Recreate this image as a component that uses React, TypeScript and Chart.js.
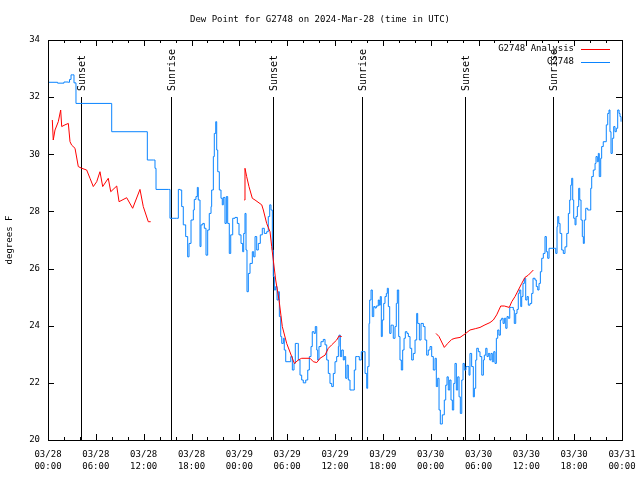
import React, { useEffect, useRef } from "react";
import { Chart, registerables } from "chart.js";

Chart.register(...registerables);

const TITLE = "Dew Point for G2748 on 2024-Mar-28 (time in UTC)";
const Y_LABEL = "degrees F";
const SERIES_ANALYSIS = "G2748 Analysis";
const SERIES_OBS = "G2748";

const tickDates = ["03/28", "03/28", "03/28", "03/28", "03/29", "03/29", "03/29", "03/29", "03/30", "03/30", "03/30", "03/30", "03/31"];
const tickTimes = ["00:00", "06:00", "12:00", "18:00", "00:00", "06:00", "12:00", "18:00", "00:00", "06:00", "12:00", "18:00", "00:00"];

const sunEventTime = [4.17, 15.45, 28.22, 39.42, 52.28, 63.38];
const sunEventName = ["Sunset", "Sunrise", "Sunset", "Sunrise", "Sunset", "Sunrise"];

// hours since 03/28 00:00 UTC
const obsTime = [
  0, 1.2, 2.0, 2.55, 2.7, 2.89, 3.1, 3.26, 3.51, 7.78, 7.99, 12.29, 12.46, 13.21, 13.42, 13.55, 15.09, 15.3, 16.14,
  16.35, 16.56, 16.77, 16.97, 17.27, 17.52, 17.69, 17.94, 18.23, 18.35, 18.56, 18.73, 18.85, 19.07, 19.19, 19.41, 19.61, 19.82,
  20.03, 20.23, 20.45, 20.53, 20.74, 20.86, 21.04, 21.16, 21.29, 21.49, 21.7, 21.86, 21.99, 22.2, 22.37, 22.54, 22.74, 22.92,
  23.17, 23.46, 23.75, 23.96, 24.21, 24.42, 24.55, 24.71, 24.84, 24.96, 25.13, 25.34, 25.63, 25.8, 25.97, 26.18, 26.38, 26.63,
  26.88, 27.13, 27.43, 27.63, 27.81, 27.97, 28.14, 28.26, 28.39, 28.56, 28.73, 28.89, 29.02, 29.19, 29.32, 29.52, 29.64, 29.82,
  30.23, 30.45, 30.65, 30.86, 31.02, 31.27, 31.4, 31.61, 31.82, 32.02, 32.33, 32.58, 32.78, 32.99, 33.15, 33.37, 33.53, 33.71,
  33.83, 33.99, 34.24, 34.53, 34.75, 34.96, 35.16, 35.37, 35.59, 35.79, 36.0, 36.21, 36.42, 36.5, 36.67, 36.84, 37.04, 37.17,
  37.34, 37.51, 37.67, 37.88, 38.22, 38.42, 38.6, 38.85, 39.05, 39.3, 39.55, 39.77, 39.98, 40.1, 40.27, 40.35, 40.52, 40.68,
  40.86, 41.02, 41.18, 41.43, 41.56, 41.68, 41.81, 41.93, 42.11, 42.27, 42.44, 42.56, 42.69, 42.86, 43.03, 43.19, 43.31, 43.53,
  43.69, 43.82, 43.99, 44.15, 44.32, 44.49, 44.66, 44.82, 45.03, 45.2, 45.41, 45.62, 45.82, 46.04, 46.25, 46.37, 46.58, 46.79,
  47.08, 47.29, 47.5, 47.7, 47.92, 48.13, 48.33, 48.55, 48.71, 48.88, 49.05, 49.21, 49.46, 49.71, 49.89, 50.05, 50.21, 50.39,
  50.55, 50.72, 50.89, 51.05, 51.22, 51.39, 51.56, 51.72, 51.9, 52.06, 52.22, 52.43, 52.65, 52.81, 52.93, 53.14, 53.35, 53.48,
  53.65, 53.78, 53.98, 54.19, 54.41, 54.61, 54.73, 54.91, 55.07, 55.23, 55.41, 55.57, 55.73, 55.91, 56.07, 56.24, 56.41, 56.57,
  56.74, 56.91, 57.08, 57.24, 57.42, 57.58, 57.74, 57.92, 58.17, 58.37, 58.49, 58.67, 58.83, 58.99, 59.12, 59.3, 59.42, 59.58,
  59.75, 59.92, 60.09, 60.25, 60.46, 60.67, 60.84, 61.09, 61.25, 61.43, 61.59, 61.76, 61.93, 62.13, 62.34, 62.51, 62.68, 62.85,
  63.51, 63.69, 63.85, 63.94, 64.07, 64.23, 64.44, 64.64, 64.85, 65.07, 65.27, 65.44, 65.57, 65.69, 65.82, 65.94, 66.11, 66.23,
  66.4, 66.57, 66.7, 66.86, 67.02, 67.15, 67.27, 67.45, 67.7, 67.95, 68.08, 68.2, 68.4, 68.62, 68.74, 68.9, 69.03, 69.15, 69.33,
  69.45, 69.65, 69.87, 70.03, 70.21, 70.37, 70.49, 70.62, 70.78, 70.96, 71.12, 71.29, 71.46, 71.63, 71.75, 71.88,
];
const obsDew = [
  32.52, 32.49, 32.53, 32.52, 32.62, 32.78, 32.78, 32.5, 31.78, 31.78, 30.79, 30.79, 29.8, 29.8, 29.51, 28.77, 28.77, 27.76, 27.76,
  28.77, 28.75, 28.17, 27.53, 27.12, 26.41, 26.88, 27.7, 28.05, 28.42, 28.52, 28.84, 28.4, 26.77, 27.53, 27.58, 27.41, 26.47,
  27.35, 27.93, 28.17, 28.75, 29.92, 30.73, 31.14, 30.15, 29.39, 28.75, 28.46, 28.23, 28.49, 27.58, 28.52, 27.58, 26.53, 27.18,
  27.76, 27.79, 27.58, 27.18, 26.88, 26.59, 27.23, 27.93, 26.65, 25.19, 25.83, 26.18, 26.59, 26.41, 27.12, 26.65, 26.88, 27.18,
  27.41, 27.23, 27.29, 27.82, 28.23, 28.05, 26.65, 25.72, 25.25, 25.37, 24.9, 25.19, 24.32, 23.62, 23.38, 23.56, 23.15, 22.74,
  22.74, 22.92, 22.45, 22.68, 23.38, 23.38, 22.8, 22.27, 22.1, 22.0, 22.1, 22.45, 22.92, 23.27, 23.79, 23.73, 23.97, 23.15,
  22.8, 23.27, 23.44, 23.52, 23.33, 22.8, 22.33, 21.98, 21.87, 22.33, 22.74, 22.92, 23.27, 23.67, 22.92, 23.15, 22.8, 22.92,
  22.16, 22.62, 22.1, 21.75, 21.75, 22.45, 22.92, 22.92, 22.8, 23.09, 23.09, 22.33, 21.81, 22.57, 24.08, 24.9, 25.25, 24.32,
  24.67, 24.62, 24.69, 24.9, 24.72, 25.02, 23.62, 24.2, 24.78, 25.02, 25.13, 25.31, 24.67, 23.73, 24.02, 24.02, 23.56, 23.97,
  24.78, 25.25, 23.62, 22.8, 22.45, 23.15, 23.56, 23.79, 23.73, 23.62, 23.21, 22.8, 23.03, 23.5, 24.43, 24.08, 23.5, 24.08,
  23.97, 23.5, 22.97, 23.15, 23.27, 22.92, 22.45, 22.86, 21.87, 22.16, 21.05, 20.56, 20.88, 21.4, 21.92, 22.21, 21.75, 22.1,
  21.4, 21.05, 21.98, 22.68, 21.75, 22.21, 21.51, 20.93, 22.1, 22.68, 22.45, 22.57, 22.57, 22.27, 23.03, 22.57, 21.51, 21.81,
  22.8, 23.21, 23.09, 22.92, 22.27, 22.8, 22.97, 23.21, 22.92, 23.03, 22.8, 23.03, 22.74, 23.09, 22.68, 23.56, 23.85, 23.67,
  24.2, 24.26, 24.08, 24.26, 23.91, 24.32, 24.26, 24.64, 24.64, 24.55, 24.08, 24.43, 24.57, 25.13, 25.25, 24.67, 25.02, 25.48,
  25.66, 24.9, 25.02, 24.72, 24.78, 25.13, 25.66, 25.6, 25.37, 25.25, 25.48, 25.89, 26.36, 26.53, 27.12, 26.59, 26.36, 26.71,
  26.71, 26.53, 27.47, 27.82, 27.58, 27.23, 26.65, 26.53, 26.76, 27.23, 27.93, 28.4, 28.92, 29.16, 28.4, 27.76, 27.53, 27.82,
  28.17, 28.81, 28.4, 27.7, 27.12, 26.88, 27.7, 28.11, 28.05, 28.05, 28.81, 29.22, 29.45, 29.68, 29.92, 29.74, 30.03, 29.22, 29.86,
  30.27, 30.44, 30.44, 31.03, 31.43, 31.55, 30.79, 30.03, 30.56, 30.97, 30.79, 30.91, 31.55, 31.43, 31.32, 31.14,
];

const anaTime = [
  0.54, 0.66, 0.88, 1.29, 1.59, 1.72, 2.13, 2.55, 2.76, 2.97, 3.39, 3.8, 4.23, 4.85, 5.27, 5.68, 6.11, 6.52, 6.86, 7.56, 7.87,
  8.62, 8.91, 9.87, 10.62, 11.54, 11.95, 12.58, 12.88,
  18,
  24.62, 24.71, 24.92, 25.21, 25.63, 25.97, 26.81, 27.01, 27.43, 27.85, 28.06, 28.26, 28.56, 28.98, 29.39, 29.94, 30.57, 30.9,
  31.4, 31.82, 32.87, 33.28, 33.71, 34.12, 34.75, 35.16, 35.59, 36.21, 36.5, 36.84,
  42,
  48.67, 49.05, 49.71, 50.14, 50.64, 51.05, 51.68, 52.3, 52.93, 53.65, 54.19, 54.81, 55.44, 55.86, 56.28, 56.79, 57.24, 57.86,
  58.17, 58.58, 59.0, 59.42, 59.83, 60.25, 60.88,
];
const anaDew: (number | null)[] = [
  31.2, 30.5, 30.85, 31.14, 31.55, 30.97, 31.03, 31.08, 30.44, 30.32, 30.21, 29.57, 29.51, 29.45, 29.16, 28.87, 29.04, 29.39,
  28.87, 29.16, 28.69, 28.89, 28.34, 28.48, 28.11, 28.77, 28.17, 27.64, 27.64,
  null,
  28.4, 29.51, 29.22, 28.87, 28.46, 28.4, 28.23, 28.05, 27.58, 27.29, 26.77, 26.3, 25.6, 24.9, 23.97, 23.38, 22.92, 22.68,
  22.8, 22.86, 22.86, 22.74, 22.71, 22.86, 22.97, 23.21, 23.33, 23.5, 23.64, 23.62,
  null,
  23.73, 23.62, 23.24, 23.38, 23.52, 23.56, 23.59, 23.71, 23.85, 23.9, 23.94, 24.03, 24.11, 24.2, 24.38, 24.69, 24.69, 24.64,
  24.84, 25.02, 25.25, 25.48, 25.69, 25.77, 25.95,
];

const FONT = "DejaVu Sans Mono, monospace";
const RED = "#ff0000";
const BLUE = "#0a84ff";

const decorPlugin = {
  id: "gnuplotDecor",
  beforeDatasetsDraw(chart: any) {
    const ctx = chart.ctx;
    const xs = chart.scales.x;
    const ys = chart.scales.y;
    const { bottom } = chart.chartArea;
    ctx.save();
    ctx.strokeStyle = "#000";
    ctx.lineWidth = 1;
    const yTop = Math.round(ys.getPixelForValue(32));
    sunEventTime.forEach((t, i) => {
      const x = Math.round(xs.getPixelForValue(t)) + 0.5;
      ctx.beginPath();
      ctx.moveTo(x, yTop);
      ctx.lineTo(x, bottom);
      ctx.stroke();
      ctx.save();
      ctx.translate(x + 1, yTop - 6);
      ctx.rotate(-Math.PI / 2);
      ctx.fillStyle = "#000";
      ctx.font = "10px " + FONT;
      ctx.textAlign = "left";
      ctx.textBaseline = "middle";
      ctx.fillText(sunEventName[i], 0, 0);
      ctx.restore();
    });
    ctx.restore();
  },
  afterDraw(chart: any) {
    const ctx = chart.ctx;
    const xs = chart.scales.x;
    const ys = chart.scales.y;
    const { left, right, top, bottom } = chart.chartArea;
    ctx.save();
    ctx.strokeStyle = "#000";
    ctx.lineWidth = 1;
    ctx.strokeRect(left + 0.5, top + 0.5, right - left, bottom - top);
    ctx.beginPath();
    for (let h = 0; h <= 72; h += 2) {
      const x = Math.round(xs.getPixelForValue(h)) + 0.5;
      const len = h % 6 === 0 ? 6 : 3;
      ctx.moveTo(x, bottom);
      ctx.lineTo(x, bottom - len);
      ctx.moveTo(x, top);
      ctx.lineTo(x, top + len);
    }
    for (let v = 20; v <= 34; v += 2) {
      const y = Math.round(ys.getPixelForValue(v)) + 0.5;
      ctx.moveTo(left, y);
      ctx.lineTo(left + 6, y);
      ctx.moveTo(right, y);
      ctx.lineTo(right - 6, y);
    }
    ctx.stroke();

    ctx.fillStyle = "#000";
    ctx.font = "9px " + FONT;
    ctx.textAlign = "center";
    ctx.textBaseline = "middle";
    ctx.fillText(TITLE, 320, 20);

    ctx.save();
    ctx.translate(10, (top + bottom) / 2);
    ctx.rotate(-Math.PI / 2);
    ctx.fillText(Y_LABEL, 0, 0);
    ctx.restore();

    ctx.textAlign = "right";
    ctx.fillText(SERIES_ANALYSIS, 574, 49);
    ctx.fillText(SERIES_OBS, 574, 62);
    ctx.beginPath();
    ctx.strokeStyle = RED;
    ctx.moveTo(581, 49.5);
    ctx.lineTo(610, 49.5);
    ctx.stroke();
    ctx.beginPath();
    ctx.strokeStyle = BLUE;
    ctx.moveTo(581, 62.5);
    ctx.lineTo(610, 62.5);
    ctx.stroke();
    ctx.restore();
  },
};

export default function App() {
  const ref = useRef<HTMLCanvasElement>(null);
  useEffect(() => {
    document.body.style.margin = "0";
    const obs = obsTime.map((t, i) => ({ x: t, y: obsDew[i] }));
    const ana = anaTime.map((t, i) => ({ x: t, y: anaDew[i] }));
    const chart = new Chart(ref.current as HTMLCanvasElement, {
      type: "line",
      data: {
        datasets: [
          {
            label: SERIES_ANALYSIS,
            data: ana as any,
            borderColor: RED,
            borderWidth: 1,
            pointRadius: 0,
            spanGaps: false,
            tension: 0,
          },
          {
            label: SERIES_OBS,
            data: obs,
            borderColor: BLUE,
            borderWidth: 1,
            pointRadius: 0,
            stepped: true,
          },
        ],
      },
      options: {
        animation: false,
        responsive: false,
        devicePixelRatio: 1,
        layout: { padding: { top: 40, right: 18, left: 0, bottom: 0 } },
        plugins: { legend: { display: false }, title: { display: false }, tooltip: { enabled: false } },
        scales: {
          x: {
            type: "linear",
            min: 0,
            max: 72,
            grid: { display: false, drawTicks: false },
            border: { display: false },
            afterFit: (s: any) => {
              s.height = 40;
              s.paddingLeft = 0;
              s.paddingRight = 0;
            },
            ticks: {
              stepSize: 6,
              autoSkip: false,
              maxRotation: 0,
              padding: 8,
              color: "#000",
              font: { family: FONT, size: 9, lineHeight: 1.4 },
              callback: (v: any) => {
                const i = Math.round(Number(v) / 6);
                return [tickDates[i], tickTimes[i]];
              },
            },
          },
          y: {
            min: 20,
            max: 34,
            grid: { display: false, drawTicks: false },
            border: { display: false },
            afterFit: (s: any) => {
              s.width = 48;
              s.paddingTop = 0;
              s.paddingBottom = 0;
            },
            ticks: {
              stepSize: 2,
              padding: 8,
              color: "#000",
              font: { family: FONT, size: 9 },
            },
          },
        },
      },
      plugins: [decorPlugin],
    });
    return () => chart.destroy();
  }, []);
  return (
    <div style={{ position: "absolute", left: 0, top: 0, width: 640, height: 480, background: "#fff" }}>
      <canvas ref={ref} width={640} height={480} />
    </div>
  );
}
